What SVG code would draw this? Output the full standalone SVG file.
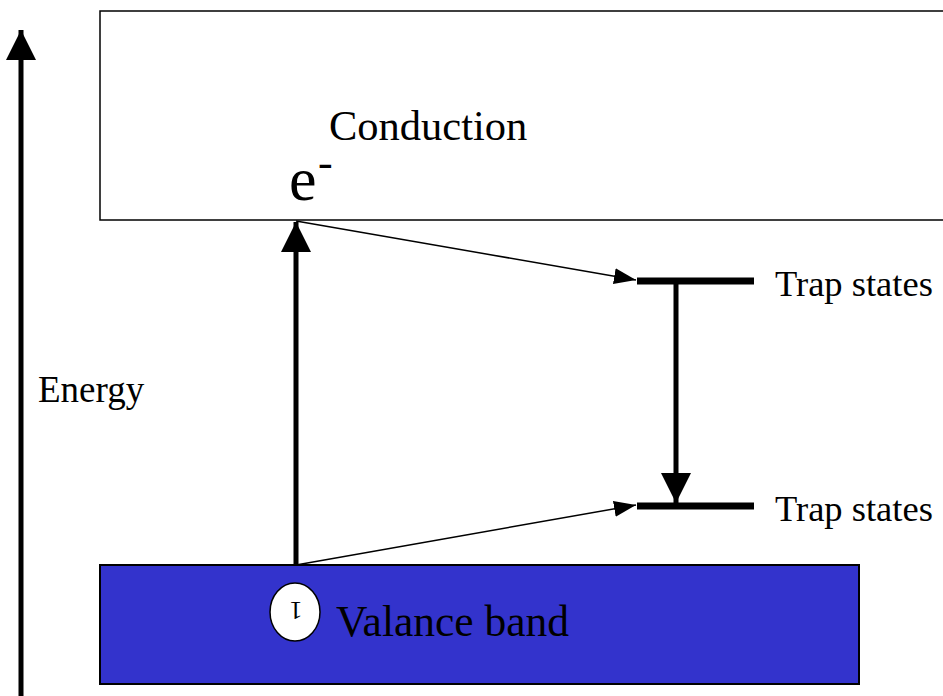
<svg xmlns="http://www.w3.org/2000/svg" width="943" height="696" viewBox="0 0 943 696">
<style>
text{font-family:"Liberation Serif","Times New Roman",serif;fill:#000}
.thick{stroke:#000;stroke-width:5;fill:none}
.thin{stroke:#000;stroke-width:1.5;fill:none}
.trap{stroke:#000;stroke-width:7}
</style>
<defs>
<marker id="big" markerUnits="userSpaceOnUse" viewBox="0 0 30 31" refX="30" refY="15" markerWidth="30" markerHeight="31" orient="auto"><path d="M0,0 L30,15 L0,30 Z" fill="#000"/></marker>
<marker id="small" markerUnits="userSpaceOnUse" viewBox="0 0 22 16" refX="22" refY="8" markerWidth="22" markerHeight="16" orient="auto"><path d="M0,0 L22,8 L0,16 Z" fill="#000"/></marker>
</defs>
<rect width="943" height="696" fill="#fff"/>
<g id="conduction">
<rect x="100" y="11" width="860" height="209" fill="#fff" stroke="#000" stroke-width="1.5"/>
<text x="329" y="140" font-size="42.5">Conduction</text>
<text x="289" y="200" font-size="62">e</text>
<text x="318" y="177" font-size="44">-</text>
</g>
<g id="valence">
<rect x="100" y="565" width="759" height="119" fill="#3333CC" stroke="#000" stroke-width="2"/>
<ellipse cx="295" cy="612" rx="25" ry="29" fill="#fff" stroke="#000" stroke-width="1.5"/>
<text x="0" y="0" font-size="26" text-anchor="middle" transform="translate(296,602) rotate(180)">1</text>
<text x="336" y="636" font-size="43.5">Valance band</text>
</g>
<g id="trap1">
<line class="trap" x1="637" y1="281" x2="754" y2="281"/>
<text x="775" y="296" font-size="36.5">Trap states</text>
</g>
<g id="trap2">
<line class="trap" x1="637" y1="506" x2="754" y2="506"/>
<text x="775" y="521" font-size="36.5">Trap states</text>
</g>
<g id="energy-axis">
<line class="thick" x1="21" y1="696" x2="21" y2="30" marker-end="url(#big)"/>
<text x="38" y="402" font-size="37">Energy</text>
</g>
<g id="connectors">
<line class="thick" x1="296" y1="565" x2="296" y2="222" marker-end="url(#big)"/>
<line class="thin" x1="296" y1="221" x2="636" y2="280" marker-end="url(#small)"/>
<line class="thin" x1="296" y1="565" x2="636" y2="505" marker-end="url(#small)"/>
<line class="thick" x1="676" y1="281" x2="676" y2="503" marker-end="url(#big)"/>
</g>
</svg>
